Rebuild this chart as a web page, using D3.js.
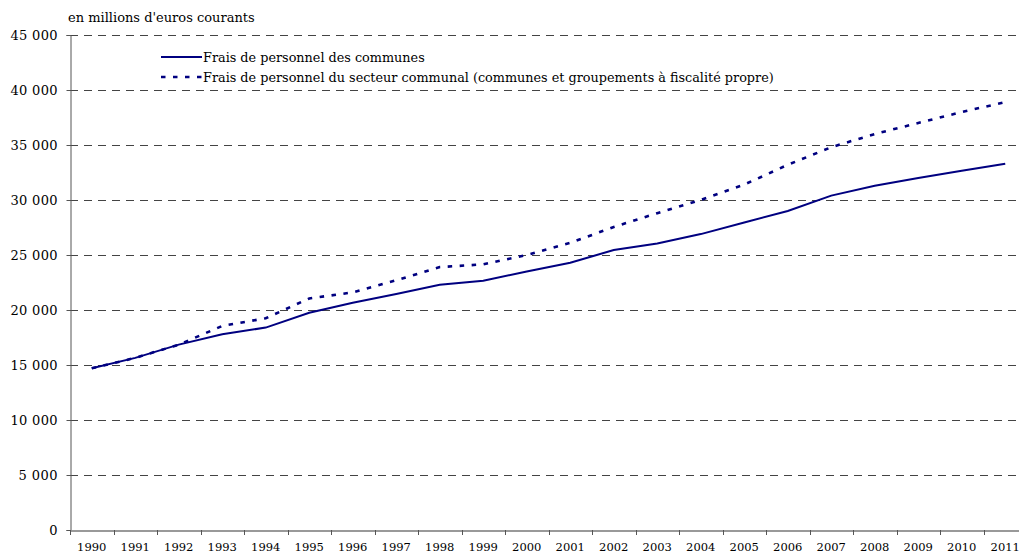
<!DOCTYPE html>
<html>
<head>
<meta charset="utf-8">
<script src="https://cdn.jsdelivr.net/npm/d3@7"></script>
<style>
  html, body { margin: 0; padding: 0; background: #fff; overflow: hidden; }
  svg text { font-family: "DejaVu Serif", "Liberation Serif", serif; fill: #000; }
</style>
</head>
<body>
<svg id="chart" width="1019" height="554"></svg>
<script>
const years = ["1990","1991","1992","1993","1994","1995","1996","1997","1998","1999","2000","2001","2002","2003","2004","2005","2006","2007","2008","2009","2010","2011"];
const communes = [14700,15650,16850,17800,18400,19750,20650,21450,22300,22650,23500,24300,25450,26050,26900,27950,29000,30400,31300,32000,32650,33300];
const secteurCommunal = [14700,15650,16850,18550,19250,21050,21600,22700,23900,24150,25000,26100,27550,28800,30000,31400,33200,34800,36000,37000,38000,38900];
const yTicks = [0,5000,10000,15000,20000,25000,30000,35000,40000,45000];
const seriesNames = ["Frais de personnel des communes","Frais de personnel du secteur communal (communes et groupements à fiscalité propre)"];
const unitLabel = "en millions d'euros courants";

const svg = d3.select("#chart");
const plotLeft = 70, plotBottom = 530, plotTop = 35, band = 43.5;
const x = d3.scaleBand().domain(years).range([plotLeft, plotLeft + years.length * band]).padding(0);
const y = d3.scaleLinear().domain([0, 45000]).range([plotBottom, plotTop]);

// gridlines
svg.append("g").selectAll("line").data(yTicks.filter(d => d > 0)).join("line")
  .attr("x1", plotLeft).attr("x2", 1019)
  .attr("y1", d => y(d) + 0.5).attr("y2", d => y(d) + 0.5)
  .attr("stroke", "#444").attr("stroke-width", 1).attr("stroke-dasharray", "8,6");

// y axis
const yAxis = d3.axisLeft(y).tickValues(yTicks).tickSize(4).tickPadding(9)
  .tickFormat(d => d3.format(",")(d).replace(/,/g, " "));
const gy = svg.append("g").attr("transform", `translate(${plotLeft + 0.5},0)`).call(yAxis);
gy.select(".domain").attr("stroke", "#555");
gy.selectAll(".tick line").attr("stroke", "#555");
gy.selectAll(".tick text").style("font-size", "13px").attr("textLength", d => d === 0 ? null : (d < 10000 ? 39 : 47));

// x axis
const xAxis = d3.axisBottom(x).tickSize(0).tickPadding(12);
const gx = svg.append("g").attr("transform", `translate(0,${plotBottom + 0.5})`).call(xAxis);
gx.select(".domain").attr("stroke", "#777").attr("stroke-width", 1.5);
gx.selectAll(".tick text").style("font-size", "11.5px");
// boundary ticks
svg.append("g").selectAll("line").data(years).join("line")
  .attr("x1", d => Math.round(x(d)) + 0.5).attr("x2", d => Math.round(x(d)) + 0.5)
  .attr("y1", plotBottom).attr("y2", plotBottom + 5)
  .attr("stroke", "#555");

// lines
const line = d3.line().x((d, i) => x(years[i]) + x.bandwidth() / 2).y(d => y(d));
svg.append("path").datum(secteurCommunal).attr("d", line)
  .attr("fill", "none").attr("stroke", "#000080").attr("stroke-width", 2.6)
  .attr("stroke-dasharray", "4.5,7.5");
svg.append("path").datum(communes).attr("d", line)
  .attr("fill", "none").attr("stroke", "#000080").attr("stroke-width", 2);

// unit label
svg.append("text").attr("x", 68).attr("y", 22).style("font-size", "13px").text(unitLabel);

// legend
const lg = svg.append("g");
lg.append("line").attr("x1", 161).attr("x2", 202).attr("y1", 57).attr("y2", 57)
  .attr("stroke", "#000080").attr("stroke-width", 2);
lg.append("text").attr("x", 203).attr("y", 61.5).style("font-size", "12.8px").text(seriesNames[0]);
lg.append("line").attr("x1", 161).attr("x2", 202).attr("y1", 77).attr("y2", 77)
  .attr("stroke", "#000080").attr("stroke-width", 2.6).attr("stroke-dasharray", "4.5,7.5");
lg.append("text").attr("x", 203).attr("y", 81.5).style("font-size", "12.8px").text(seriesNames[1]);
</script>
</body>
</html>
